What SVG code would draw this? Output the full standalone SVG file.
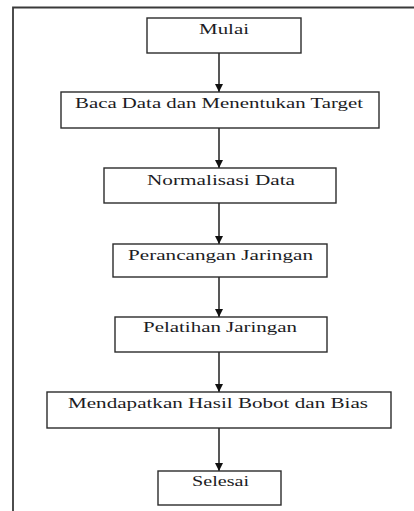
<svg xmlns="http://www.w3.org/2000/svg" width="414" height="511" viewBox="0 0 414 511">
<style>
.box{fill:#fff;stroke:#2b2b2b;stroke-width:1.4}
.lbl{font-family:"Liberation Serif","Times New Roman",serif;font-size:15px;fill:#1c1c24;text-anchor:middle}
.con{stroke:#111;stroke-width:1.4;fill:none;marker-end:url(#ah)}
.frame{stroke:#3a3a3a;stroke-width:1.8;fill:none}
</style>
<defs>
<marker id="ah" viewBox="0 0 8 8" refX="8" refY="4" markerWidth="8" markerHeight="8" markerUnits="userSpaceOnUse" orient="auto">
<path d="M0,0 L8,4 L0,8 z" fill="#111"/>
</marker>
</defs>
<rect width="414" height="511" fill="#fff"/>
<path class="frame" d="M13,511 V7.5 H414"/>
<g id="connectors">
<line class="con" x1="219" y1="53" x2="219" y2="92"/>
<line class="con" x1="219" y1="128" x2="219" y2="168"/>
<line class="con" x1="219" y1="203" x2="219" y2="244"/>
<line class="con" x1="219" y1="277" x2="219" y2="317"/>
<line class="con" x1="219" y1="352" x2="219" y2="392"/>
<line class="con" x1="219" y1="428" x2="219" y2="471"/>
</g>
<g id="mulai">
<rect class="box" x="147" y="18" width="154" height="35"/>
<text class="lbl" transform="translate(224 34) scale(1.38 1)" x="0" y="0" textLength="36.2" lengthAdjust="spacingAndGlyphs">Mulai</text>
</g>
<g id="baca">
<rect class="box" x="61" y="92" width="318" height="36"/>
<text class="lbl" transform="translate(219 108) scale(1.38 1)" x="0" y="0" textLength="208.7" lengthAdjust="spacingAndGlyphs">Baca Data dan Menentukan Target</text>
</g>
<g id="normalisasi">
<rect class="box" x="104" y="168" width="232" height="35"/>
<text class="lbl" transform="translate(221 185) scale(1.38 1)" x="0" y="0" textLength="107.2" lengthAdjust="spacingAndGlyphs">Normalisasi Data</text>
</g>
<g id="perancangan">
<rect class="box" x="113" y="244" width="214" height="33"/>
<text class="lbl" transform="translate(220.5 260) scale(1.38 1)" x="0" y="0" textLength="134" lengthAdjust="spacingAndGlyphs">Perancangan Jaringan</text>
</g>
<g id="pelatihan">
<rect class="box" x="115" y="317" width="212" height="35"/>
<text class="lbl" transform="translate(220 332) scale(1.38 1)" x="0" y="0" textLength="111.6" lengthAdjust="spacingAndGlyphs">Pelatihan Jaringan</text>
</g>
<g id="mendapatkan">
<rect class="box" x="47" y="392" width="344" height="36"/>
<text class="lbl" transform="translate(218 408) scale(1.38 1)" x="0" y="0" textLength="217.4" lengthAdjust="spacingAndGlyphs">Mendapatkan Hasil Bobot dan Bias</text>
</g>
<g id="selesai">
<rect class="box" x="158" y="471" width="123" height="34"/>
<text class="lbl" transform="translate(220.5 486) scale(1.38 1)" x="0" y="0" textLength="41.3" lengthAdjust="spacingAndGlyphs">Selesai</text>
</g>
</svg>
